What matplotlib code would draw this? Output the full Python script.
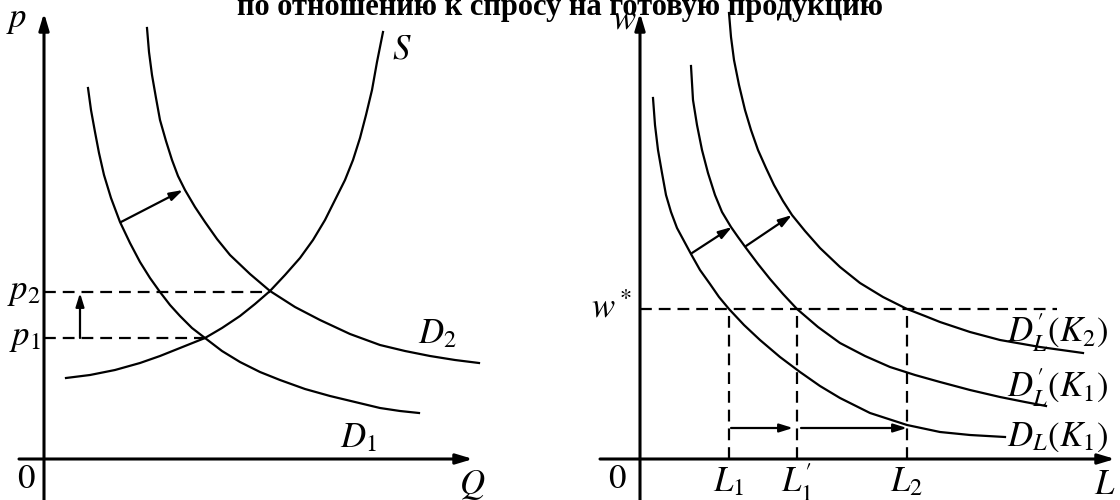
import matplotlib
matplotlib.use('Agg')
import matplotlib.pyplot as plt

plt.rcParams['mathtext.fontset'] = 'stix'
plt.rcParams['font.family'] = ['Liberation Serif', 'DejaVu Serif']
plt.rcParams['lines.scale_dashes'] = False

title = 'по отношению к спросу на готовую продукцию'

# левый график: рынок готовой продукции (Q, p)
s_q = [2.2, 4.6, 7.1, 9.6, 11.6, 13.6, 16.1, 17.8, 19.6, 21.1, 22.6, 24.1,
       25.6, 26.9, 28.1, 29.1, 30.1, 30.9, 31.6, 32.2, 32.8, 33.3, 33.9]
s_p = [8.1, 8.4, 8.9, 9.6, 10.3, 11.1, 12.1, 13.1, 14.3, 15.5, 16.8, 18.4,
       20.1, 21.9, 23.9, 25.9, 27.9, 29.9, 32.1, 34.4, 36.9, 39.7, 42.7]
d1_q = [4.4, 4.7, 5.1, 5.5, 6.0, 6.7, 7.6, 8.6, 9.6, 10.6, 11.6, 12.6, 13.6,
        14.8, 16.1, 17.8, 19.6, 21.6, 23.6, 26.1, 28.6, 31.1, 33.6, 35.6, 37.5]
d1_p = [37.1, 34.9, 32.7, 30.6, 28.4, 26.1, 23.7, 21.6, 19.7, 18.1, 16.7, 15.4, 14.3,
        13.1, 12.1, 10.8, 9.7, 8.7, 7.9, 7.0, 6.3, 5.7, 5.1, 4.8, 4.6]
d2_q = [10.3, 10.5, 10.8, 11.2, 11.6, 12.2, 12.8, 13.4, 14.1, 15.1, 16.1, 17.3,
        18.6, 20.6, 22.6, 25.1, 27.6, 30.6, 33.6, 36.1, 38.6, 41.1, 43.5]
d2_p = [43.1, 40.7, 38.4, 36.1, 33.9, 31.8, 29.9, 28.3, 26.9, 25.2, 23.7, 22.0,
        20.4, 18.5, 16.8, 15.2, 13.9, 12.5, 11.4, 10.8, 10.3, 9.9, 9.6]
p1, p2 = 12.1, 16.7
q1, q2 = 16.1, 22.6

# правый график: рынок труда (L, w)
dl1_l = [1.3, 1.5, 1.8, 2.2, 2.6, 3.1, 3.7, 4.4, 5.1, 6.0, 7.0, 7.9, 8.9,
         10.4, 12.0, 14.0, 16.0, 18.0, 20.0, 23.0, 26.7, 30.0, 33.0, 36.5]
dl1_w = [36.1, 33.4, 30.9, 28.6, 26.4, 24.7, 23.1, 21.8, 20.5, 18.9, 17.5, 16.2, 15.0,
         13.4, 11.9, 10.2, 8.7, 7.3, 6.1, 4.6, 3.4, 2.7, 2.4, 2.2]
dl1p_l = [5.1, 5.3, 5.7, 6.2, 6.8, 7.5, 8.2, 9.1, 9.8, 10.6, 11.8, 13.0, 14.3,
          15.7, 17.8, 20.0, 22.5, 25.0, 27.5, 30.0, 33.0, 36.0, 38.5, 40.6]
dl1p_w = [39.3, 35.9, 33.4, 30.9, 28.6, 26.4, 24.7, 23.2, 22.2, 21.1, 19.5, 18.0, 16.5,
          15.0, 13.2, 11.6, 10.3, 9.2, 8.4, 7.7, 6.9, 6.2, 5.7, 5.3]
dl2p_l = [8.9, 9.1, 9.4, 9.9, 10.5, 11.1, 11.8, 12.6, 13.4, 14.3, 15.2, 16.5,
          18.0, 20.0, 22.0, 24.3, 26.7, 28.5, 30.0, 33.0, 36.0, 40.0, 44.3]
dl2p_w = [44.6, 42.2, 39.9, 37.4, 34.9, 32.9, 30.9, 29.1, 27.4, 25.8, 24.4, 22.8,
          21.1, 19.2, 17.6, 16.2, 15.0, 14.3, 13.7, 12.7, 11.9, 11.2, 10.6]
w_star = 15.0
L_vals = [8.9, 15.7, 26.7]
L_labels = ['$L_1$', '$L_1^{\\prime}$', '$L_2$']
curve_labels = ['$D_L^{\\prime}(K_2)$', '$D_L^{\\prime}(K_1)$', '$D_L(K_1)$']
curve_label_w = [12.6, 7.1, 2.2]

lw_ax = 2.2
lw_c = 1.6
dash = (0, (8.5, 5))
fs = 25

fig = plt.figure(figsize=(11.2, 5), dpi=100)
ax1 = fig.add_axes([0, 0, 0.5, 1])
ax1.set_xlim(-4.4, 51.6)
ax1.set_ylim(-4.1, 45.9)
ax1.axis('off')
ax2 = fig.add_axes([0.5, 0, 0.5, 1])
ax2.set_xlim(-8, 48)
ax2.set_ylim(-4.1, 45.9)
ax2.axis('off')


def arrow(ax, x0, y0, x1, y1, lw=lw_c, hl=0.8, hw=0.25):
    ax.annotate('', xy=(x1, y1), xytext=(x0, y0),
                arrowprops=dict(arrowstyle=f'-|>,head_length={hl},head_width={hw}',
                                lw=lw, color='k', shrinkA=0, shrinkB=0))


# оси
arrow(ax1, -2.5, 0, 42.9, 0, lw=lw_ax, hl=1.0, hw=0.3)
arrow(ax1, 0, -4.1, 0, 44.6, lw=lw_ax, hl=1.0, hw=0.3)
arrow(ax2, -4, 0, 47.5, 0, lw=lw_ax, hl=1.0, hw=0.3)
arrow(ax2, 0, -4.1, 0, 44.6, lw=lw_ax, hl=1.0, hw=0.3)

# левый график
for xs, ys in [(s_q, s_p), (d1_q, d1_p), (d2_q, d2_p)]:
    ax1.plot(xs, ys, color='k', lw=lw_c, solid_joinstyle='round')
ax1.plot([0, q1], [p1, p1], color='k', lw=lw_c, ls=dash)
ax1.plot([0, q2], [p2, p2], color='k', lw=lw_c, ls=dash)
arrow(ax1, 3.6, p1, 3.6, p2 - 0.1)
arrow(ax1, 7.7, 23.7, 13.9, 26.9)

ax1.text(-2.7, 43.9, '$p$', fontsize=fs, ha='center', va='center')
ax1.text(-1.8, -2.0, '$\\mathrm{0}$', fontsize=fs, ha='center', va='center')
ax1.text(42.8, -2.6, '$Q$', fontsize=fs, ha='center', va='center')
ax1.text(35.8, 40.9, '$S$', fontsize=fs, ha='center', va='center')
ax1.text(39.3, 12.4, '$D_2$', fontsize=fs, ha='center', va='center')
ax1.text(31.4, 2.0, '$D_1$', fontsize=fs, ha='center', va='center')
ax1.text(-0.3, p2, '$p_2$', fontsize=fs, ha='right', va='center')
ax1.text(-0.3, p1, '$p_1$', fontsize=fs, ha='right', va='center')

# правый график
for xs, ys in [(dl1_l, dl1_w), (dl1p_l, dl1p_w), (dl2p_l, dl2p_w)]:
    ax2.plot(xs, ys, color='k', lw=lw_c, solid_joinstyle='round')
ax2.plot([0, 41.7], [w_star, w_star], color='k', lw=lw_c, ls=dash)
for lv, lab in zip(L_vals, L_labels):
    ax2.plot([lv, lv], [0, w_star], color='k', lw=lw_c, ls=dash)
    ax2.text(lv, -2.4, lab, fontsize=fs, ha='center', va='center')
arrow(ax2, L_vals[0] + 0.2, 3.1, L_vals[1] - 0.4, 3.1)
arrow(ax2, L_vals[1] + 0.4, 3.1, L_vals[2], 3.1)
arrow(ax2, 5.2, 20.6, 9.2, 23.2)
arrow(ax2, 10.6, 21.3, 15.2, 24.4)

for lab, wv in zip(curve_labels, curve_label_w):
    ax2.text(36.7, wv, lab, fontsize=fs, ha='left', va='center')

ax2.text(-1.6, 43.9, '$w$', fontsize=fs, ha='center', va='center')
ax2.text(-2.3, -2.0, '$\\mathrm{0}$', fontsize=fs, ha='center', va='center')
ax2.text(46.5, -2.6, '$L$', fontsize=fs, ha='center', va='center')
ax2.text(-0.8, w_star, '$w^*$', fontsize=fs, ha='right', va='center')

fig.text(0.5, 1 - 15 / 500, title, fontsize=22, fontweight='bold',
         ha='center', va='baseline')

fig.savefig('out.png', dpi=100)
